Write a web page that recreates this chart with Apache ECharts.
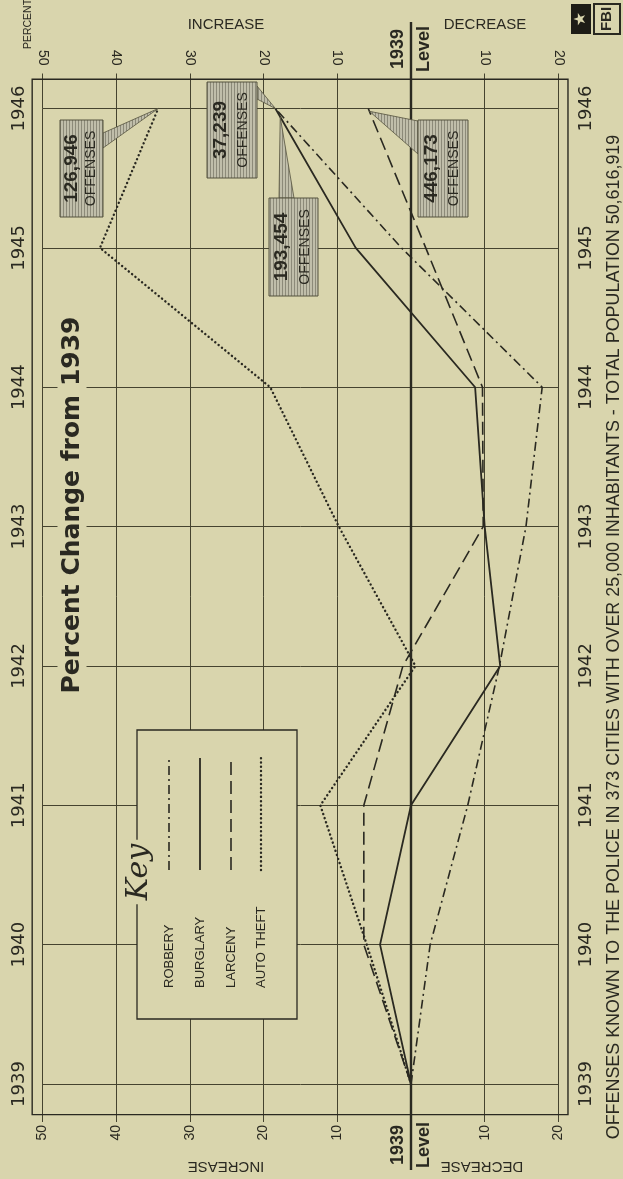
<!DOCTYPE html>
<html>
<head>
<meta charset="utf-8">
<script src="https://cdn.jsdelivr.net/npm/echarts@6/dist/echarts.min.js"></script>
<style>
html, body { margin: 0; padding: 0; background: #d9d5ad; }
#chart { width: 623px; height: 1179px; }
</style>
</head>
<body>
<div id="chart"></div>
<script>
// data (percent change from 1939, + = increase, - = decrease)
const years = [1939, 1940, 1941, 1942, 1943, 1944, 1945, 1946];
const robbery = [0, -2.6, -7.7, -12.0, -15.6, -17.8, 1.3, 18.4];
const burglary = [0, 4.2, 0, -12.1, -10.0, -8.7, 7.5, 18.4];
const larceny = [0, 6.4, 6.4, 1.1, -9.8, -9.7, -2.0, 5.8];
const autoTheft = [0, 6.0, 12.3, -0.6, 9.8, 19.1, 42.2, 34.3];
const seriesNames = ['ROBBERY', 'BURGLARY', 'LARCENY', 'AUTO THEFT'];
const offenses1946 = ['37,239', '193,454', '446,173', '126,946'];

const bg = '#d9d5ad';
const ink = '#2a2921';
const gridInk = '#45432f';
const font = '"Liberation Sans", Arial, sans-serif';

const chart = echarts.init(document.getElementById('chart'));

const lineStyles = [
    { type: [9, 4, 2, 4], width: 1.6 },            // robbery  dash-dot
    { type: 'solid', width: 1.8 },                 // burglary
    { type: [13, 6], width: 1.6 },                 // larceny  dashed
    { type: [0.1, 4.2], width: 2.4, cap: 'round' } // auto theft dotted
];
const allData = [robbery, burglary, larceny, autoTheft];

const series = allData.map((vals, i) => ({
    name: seriesNames[i],
    type: 'line',
    symbol: 'none',
    clip: false,
    z: 5,
    lineStyle: Object.assign({ color: ink }, lineStyles[i]),
    data: vals.map((v, j) => [v, years[j]])
}));

const absLabel = v => (v === 0 ? '' : String(Math.abs(v)));
const gridLine = { color: gridInk, width: 1 };

const valueAxis = (pos, tickLen, margin, split) => ({
    type: 'value',
    position: pos,
    min: -20,
    max: 50,
    interval: 10,
    inverse: true,
    axisLine: { show: false },
    axisTick: { show: true, length: tickLen, lineStyle: gridLine },
    splitLine: { show: split, lineStyle: gridLine },
    axisLabel: { rotate: 90, margin: margin, fontFamily: font, fontSize: 14, color: ink, formatter: absLabel }
});

const yearAxis = (pos, margin) => ({
    type: 'value',
    position: pos,
    min: 1939,
    max: 1946,
    interval: 1,
    axisLine: { show: false },
    axisTick: { show: true, length: 19, lineStyle: gridLine },
    splitLine: { show: pos === 'left', lineStyle: gridLine },
    axisLabel: { rotate: 90, margin: margin, fontFamily: 'DejaVu Sans', fontSize: 18, color: ink, formatter: v => String(v) }
});

chart.setOption({
    backgroundColor: bg,
    animation: false,
    grid: { left: 42.5, right: 64.6, top: 108.5, bottom: 95 },
    xAxis: [valueAxis('top', 35, 43, true), valueAxis('bottom', 38, 41, false)],
    yAxis: [yearAxis('left', 14), yearAxis('right', 19)],
    series: series
});

// ---- decorations placed from the axes ----
const px = (v, y) => chart.convertToPixel({ xAxisIndex: 0, yAxisIndex: 0 }, [v, y]);
const tl = px(51.4, 1946.21);
const br = px(-21.3, 1938.78);
const level = px(0, 1946)[0];

// hatch pattern for the callout boxes
const pat = document.createElement('canvas');
pat.width = 3; pat.height = 4;
const pc = pat.getContext('2d');
pc.fillStyle = '#c0beaa'; pc.fillRect(0, 0, 3, 4);
pc.fillStyle = '#8c8a79'; pc.fillRect(0, 0, 1, 4);
const hatch = { image: pat, repeat: 'repeat' };

const rotText = (x, y, text, f, opts) => Object.assign({
    type: 'text', x: x, y: y, rotation: Math.PI / 2, z: 60,
    style: { text: text, font: f, fill: ink, align: 'center', verticalAlign: 'middle', textAlign: 'center', textVerticalAlign: 'middle' }
}, opts || {});

const g = [];
// frame
g.push({ type: 'rect', z: 4, shape: { x: tl[0], y: tl[1], width: br[0] - tl[0], height: br[1] - tl[1] },
    style: { fill: null, stroke: ink, lineWidth: 1.4 } });
// 1939 level line
g.push({ type: 'line', z: 6, shape: { x1: level, y1: 22, x2: level, y2: 1170 }, style: { stroke: ink, lineWidth: 2.4 } });

// title + side texts
const title = rotText(72, 505, 'Percent Change from 1939', 'bold 25px "DejaVu Sans", sans-serif');
title.style.backgroundColor = bg;
title.style.padding = [2, 3];
g.push(title);
g.push(rotText(28, 24, 'PERCENT', '10.5px ' + font));
g.push({ type: 'text', x: 226, y: 25, z: 60, style: { text: 'INCREASE', font: '15px ' + font, fill: ink, align: 'center', verticalAlign: 'middle' } });
g.push({ type: 'text', x: 485, y: 25, z: 60, style: { text: 'DECREASE', font: '15px ' + font, fill: ink, align: 'center', verticalAlign: 'middle' } });
g.push({ type: 'text', x: 226, y: 1166, rotation: Math.PI, z: 60, style: { text: 'INCREASE', font: '15px ' + font, fill: ink, align: 'center', verticalAlign: 'middle' } });
g.push({ type: 'text', x: 482, y: 1166, rotation: Math.PI, z: 60, style: { text: 'DECREASE', font: '15px ' + font, fill: ink, align: 'center', verticalAlign: 'middle' } });
[49, 1145].forEach(y => {
    g.push(rotText(level - 13, y, '1939', 'bold 18px ' + font));
    g.push(rotText(level + 13, y, 'Level', 'bold 18px ' + font));
});

// footnote, sized to run the height of the frame
const foot = 'OFFENSES KNOWN TO THE POLICE IN 373 CITIES WITH OVER 25,000 INHABITANTS - TOTAL POPULATION 50,616,919';
const mc = document.createElement('canvas').getContext('2d');
mc.font = '14px "Liberation Sans"';
const footSize = 14 * 1005 / mc.measureText(foot).width;
g.push(rotText(614, 637, foot, footSize.toFixed(2) + 'px ' + font));

// FBI badge
g.push({ type: 'rect', z: 60, shape: { x: 571, y: 4, width: 20, height: 30 }, style: { fill: '#1d1c16' } });
g.push({ type: 'text', x: 581, y: 19, z: 61, rotation: Math.PI / 2, style: { text: '\u2605', font: '16px "DejaVu Sans"', fill: bg, align: 'center', verticalAlign: 'middle' } });
g.push({ type: 'rect', z: 60, shape: { x: 594, y: 4, width: 26, height: 30 }, style: { fill: null, stroke: ink, lineWidth: 2 } });
g.push(rotText(607, 19, 'FBI', 'bold 15px ' + font));

// key box
g.push({ type: 'rect', z: 50, shape: { x: 137, y: 730, width: 160, height: 289 }, style: { fill: bg, stroke: ink, lineWidth: 1.3 } });
const keyWord = rotText(139, 872, 'Key', 'italic 30px "DejaVu Serif", serif', { z: 61 });
keyWord.style.backgroundColor = bg;
keyWord.style.padding = [0, 4];
g.push(keyWord);
const keyX = [169, 200, 231, 261];
keyX.forEach((x, i) => {
    const t = rotText(x, 988, seriesNames[i], '13px ' + font);
    t.style.align = 'left'; t.style.textAlign = 'left';
    g.push(t);
    const st = lineStyles[i];
    g.push({ type: 'line', z: 61, shape: { x1: x, y1: 870, x2: x, y2: 758 },
        style: { stroke: ink, lineWidth: st.width, lineDash: Array.isArray(st.type) ? st.type : null, lineCap: st.cap || 'butt' } });
});

// callouts for 1946 totals
const callouts = [
    { s: 0, box: [207, 82, 50, 96], base: [[257, 86], [257, 99]], t: 0 },
    { s: 1, box: [269, 198, 49, 98], base: [[279, 198], [294, 198]], t: 0.06 },
    { s: 2, box: [418, 120, 50, 97], base: [[418, 121], [418, 154]], t: 0.02 },
    { s: 3, box: [60, 120, 43, 97], base: [[103, 133], [103, 148]], t: 0 }
];
callouts.forEach(c => {
    const vals = allData[c.s];
    const n = vals.length - 1;
    const a = px(vals[n], years[n]);
    const b = px(vals[n - 1], years[n - 1]);
    const tip = [a[0] + (b[0] - a[0]) * c.t, a[1] + (b[1] - a[1]) * c.t];
    const [bx, by, bw, bh] = c.box;
    g.push({ type: 'polygon', z: 55, shape: { points: [c.base[0], tip, c.base[1]] }, style: { fill: hatch, stroke: '#55533f', lineWidth: 0.8 } });
    g.push({ type: 'rect', z: 56, shape: { x: bx, y: by, width: bw, height: bh }, style: { fill: hatch, stroke: '#55533f', lineWidth: 1 } });
    g.push(rotText(bx + bw * 0.27, by + bh / 2, offenses1946[c.s], 'bold 19px ' + font, { z: 62 }));
    g.push(rotText(bx + bw * 0.73, by + bh / 2, 'OFFENSES', '14px ' + font, { z: 62 }));
});

chart.setOption({ graphic: g });
</script>
</body>
</html>
